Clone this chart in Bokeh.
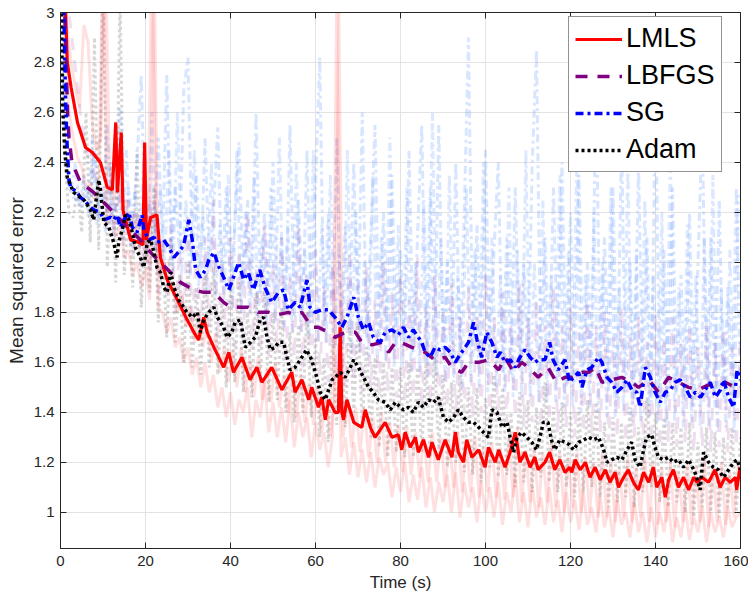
import numpy as np
from bokeh.plotting import figure
from bokeh.models import (LinearAxis, Range1d, FixedTicker, Legend, LegendItem,
                          CustomJSTickFormatter)
from bokeh.embed import file_html
from bokeh.resources import INLINE

# ---------------- data ----------------
x_ticks = [0, 20, 40, 60, 80, 100, 120, 140, 160]
y_ticks = [1.0, 1.2, 1.4, 1.6, 1.8, 2.0, 2.2, 2.4, 2.6, 2.8, 3.0]

lmls_t = [0.0, 1.2, 1.6, 2.5, 4.0, 5.9, 7.5, 9.4, 11.0, 12.2, 13.0, 13.4, 14.3, 14.7, 16.5, 18.5, 19.4, 19.8, 20.2, 21.2,
          22.7, 23.5, 25.1, 27.5, 29.8, 31.4, 32.5, 33.7, 34.5, 36.1, 38.4, 39.6, 40.7, 42.7, 44.6, 46.2, 47.4, 49.7, 51.3, 52.1,
          54.4, 55.2, 56.8, 58.4, 59.1, 60.7, 61.5, 62.3, 63.1, 64.6, 65.4, 65.8, 66.2, 66.6, 67.4, 69.0, 70.9, 71.7, 72.9, 74.0,
          76.4, 78.0, 79.5, 80.3, 81.1, 82.3, 83.5, 84.2, 85.4, 86.6, 87.4, 88.9, 89.7, 90.5, 92.1, 92.9, 93.6, 94.8, 95.6, 96.8,
          98.4, 99.9, 100.7, 102.3, 103.1, 104.6, 105.8, 107.0, 108.1, 109.3, 110.5, 111.6, 112.4, 114.0, 115.1, 116.3, 117.5, 118.7, 119.8, 120.3,
          121.1, 122.3, 123.5, 124.6, 125.8, 127.0, 128.2, 129.3, 130.5, 131.3, 132.5, 133.6, 134.8, 136.0, 137.2, 138.4, 139.5, 140.3, 141.5, 142.3,
          143.1, 144.2, 145.4, 146.6, 147.8, 149.0, 149.7, 150.9, 152.5, 154.0, 155.2, 156.4, 157.6, 158.8, 159.1, 159.9]
lmls_v = [3.50, 3.00, 2.80, 2.70, 2.56, 2.46, 2.44, 2.40, 2.30, 2.29, 2.56, 2.28, 2.52, 2.21, 2.09, 2.08, 2.07, 2.48, 2.09, 2.18,
          2.19, 2.02, 1.93, 1.85, 1.77, 1.72, 1.69, 1.78, 1.72, 1.66, 1.58, 1.64, 1.56, 1.62, 1.53, 1.58, 1.52, 1.58, 1.52, 1.49,
          1.56, 1.48, 1.53, 1.45, 1.50, 1.42, 1.46, 1.37, 1.45, 1.40, 1.40, 1.74, 1.40, 1.37, 1.45, 1.36, 1.34, 1.41, 1.34, 1.30,
          1.36, 1.30, 1.31, 1.25, 1.32, 1.26, 1.30, 1.24, 1.29, 1.22, 1.28, 1.21, 1.25, 1.29, 1.22, 1.32, 1.24, 1.20, 1.29, 1.22,
          1.25, 1.18, 1.26, 1.20, 1.25, 1.18, 1.24, 1.32, 1.20, 1.24, 1.18, 1.22, 1.17, 1.20, 1.24, 1.17, 1.21, 1.16, 1.18, 1.16,
          1.21, 1.17, 1.20, 1.14, 1.18, 1.13, 1.17, 1.12, 1.16, 1.10, 1.14, 1.17, 1.12, 1.09, 1.16, 1.12, 1.18, 1.10, 1.14, 1.06,
          1.13, 1.17, 1.10, 1.14, 1.09, 1.14, 1.12, 1.14, 1.12, 1.17, 1.10, 1.14, 1.12, 1.14, 1.09, 1.18]

lbfgs_t = [0.0, 1.0, 1.4, 1.7, 2.0, 2.7, 4.7, 7.8, 10.2, 12.5, 15.7, 18.8, 21.2, 23.5, 25.9, 28.2, 31.4, 33.7, 36.1, 38.4,
           40.0, 41.9, 44.2, 46.6, 49.0, 50.9, 53.6, 55.2, 56.8, 59.1, 60.7, 63.1, 64.6, 67.0, 69.4, 70.9, 73.3, 75.6, 77.2, 78.8,
           80.0, 82.7, 84.2, 85.8, 88.1, 90.5, 92.1, 94.4, 96.0, 98.4, 100.7, 103.1, 104.6, 106.6, 108.5, 110.1, 112.4, 114.7, 116.7, 118.7,
           120.3, 122.7, 124.3, 125.9, 127.4, 129.7, 132.1, 134.4, 136.0, 138.4, 140.7, 143.1, 145.4, 147.8, 150.1, 152.5, 154.8, 156.4, 158.8, 160.0]
lbfgs_v = [3.60, 3.00, 2.75, 2.58, 2.50, 2.40, 2.32, 2.28, 2.24, 2.20, 2.14, 2.09, 2.04, 2.00, 1.96, 1.92, 1.89, 1.88, 1.88, 1.84,
           1.82, 1.82, 1.82, 1.80, 1.80, 1.79, 1.80, 1.79, 1.80, 1.74, 1.74, 1.72, 1.70, 1.72, 1.72, 1.68, 1.67, 1.68, 1.64, 1.68,
           1.68, 1.66, 1.65, 1.64, 1.61, 1.62, 1.58, 1.56, 1.60, 1.60, 1.61, 1.57, 1.62, 1.56, 1.60, 1.58, 1.54, 1.58, 1.52, 1.54,
           1.54, 1.56, 1.56, 1.58, 1.52, 1.53, 1.54, 1.52, 1.50, 1.53, 1.48, 1.54, 1.52, 1.50, 1.49, 1.51, 1.50, 1.52, 1.50, 1.49]

sg_t = [0.0, 0.8, 1.2, 1.6, 2.0, 2.4, 3.9, 4.7, 5.5, 7.1, 7.8, 9.4, 10.2, 11.8, 12.5, 13.3, 14.1, 14.9, 16.1, 16.9,
        18.0, 19.2, 19.6, 20.8, 22.0, 22.7, 24.3, 25.5, 26.7, 28.2, 29.0, 30.2, 31.0, 31.8, 32.9, 34.1, 34.9, 36.1, 37.3, 38.4,
        39.6, 40.7, 41.9, 43.1, 44.2, 45.4, 46.9, 48.1, 49.7, 51.3, 52.5, 53.6, 55.2, 56.4, 58.0, 58.7, 59.9, 61.5, 63.1, 64.6,
        66.2, 67.4, 69.0, 70.1, 71.3, 72.5, 73.6, 75.2, 76.4, 78.0, 79.5, 80.7, 81.9, 83.0, 84.2, 85.0, 85.8, 87.0, 88.1, 89.3,
        90.5, 91.7, 92.9, 93.6, 94.8, 96.0, 97.2, 98.0, 99.1, 100.3, 101.5, 102.7, 103.5, 104.6, 105.8, 107.0, 108.1, 109.3, 110.5, 111.7,
        112.4, 114.0, 115.1, 115.9, 117.1, 118.7, 119.8, 120.7, 121.9, 122.7, 123.9, 125.0, 126.6, 127.4, 128.6, 129.7, 130.9, 132.1, 133.3, 134.4,
        135.6, 136.4, 137.6, 138.8, 139.9, 141.1, 142.3, 143.5, 144.6, 145.8, 147.0, 148.2, 149.4, 150.6, 151.7, 152.9, 154.1, 155.3, 156.0, 157.2,
        158.4, 159.2, 160.0]
sg_v = [3.40, 3.00, 2.65, 2.45, 2.33, 2.30, 2.28, 2.26, 2.25, 2.22, 2.21, 2.20, 2.17, 2.18, 2.17, 2.19, 2.14, 2.17, 2.20, 2.14,
        2.12, 2.19, 2.13, 2.09, 2.10, 2.08, 2.09, 2.06, 2.02, 2.05, 2.07, 2.17, 2.09, 1.97, 1.94, 1.97, 2.01, 2.04, 1.98, 1.94,
        1.89, 1.94, 2.00, 1.93, 1.96, 1.89, 1.97, 1.90, 1.84, 1.88, 1.89, 1.81, 1.84, 1.82, 1.93, 1.82, 1.80, 1.81, 1.81, 1.78,
        1.74, 1.78, 1.86, 1.78, 1.73, 1.76, 1.70, 1.68, 1.72, 1.73, 1.71, 1.74, 1.70, 1.73, 1.70, 1.68, 1.64, 1.62, 1.66, 1.65,
        1.66, 1.64, 1.60, 1.62, 1.65, 1.68, 1.76, 1.69, 1.62, 1.72, 1.68, 1.62, 1.64, 1.60, 1.61, 1.58, 1.62, 1.65, 1.62, 1.60,
        1.61, 1.61, 1.68, 1.61, 1.57, 1.61, 1.52, 1.54, 1.56, 1.50, 1.57, 1.58, 1.62, 1.60, 1.54, 1.52, 1.48, 1.50, 1.53, 1.49,
        1.48, 1.42, 1.58, 1.54, 1.48, 1.44, 1.48, 1.49, 1.52, 1.53, 1.50, 1.46, 1.48, 1.46, 1.49, 1.52, 1.46, 1.49, 1.53, 1.46,
        1.42, 1.57, 1.53]

adam_t = [0.0, 0.2, 0.5, 1.0, 1.6, 3.1, 5.5, 7.1, 7.8, 9.0, 9.4, 10.2, 11.4, 12.5, 13.3, 13.7, 14.5, 15.3, 16.1, 16.9,
          17.6, 18.8, 19.6, 20.4, 21.2, 22.0, 22.7, 23.5, 24.3, 25.1, 25.9, 26.7, 27.8, 29.0, 29.8, 31.0, 32.2, 32.9, 33.7, 34.9,
          36.1, 36.9, 38.4, 39.2, 40.3, 41.1, 42.3, 43.5, 44.7, 45.8, 47.0, 47.8, 48.6, 49.4, 50.5, 51.3, 52.5, 53.3, 54.0, 55.2,
          56.4, 57.9, 59.1, 60.3, 61.1, 62.3, 63.1, 63.9, 64.6, 65.8, 67.0, 68.2, 69.0, 70.1, 71.3, 72.5, 73.6, 74.8, 76.4, 77.6,
          78.8, 80.0, 80.7, 81.9, 83.0, 84.2, 85.4, 86.6, 87.8, 88.9, 90.1, 91.3, 92.5, 93.6, 94.8, 96.0, 97.2, 98.4, 99.5, 100.7,
          101.5, 102.7, 103.9, 105.1, 105.8, 106.6, 107.4, 108.5, 109.7, 110.9, 112.0, 112.8, 113.6, 114.7, 115.5, 116.3, 117.5, 118.7, 119.8, 120.7,
          121.9, 123.1, 124.3, 125.4, 126.6, 127.8, 128.6, 129.7, 130.9, 132.1, 133.3, 134.4, 135.2, 136.4, 137.2, 137.9, 139.1, 139.9, 140.7, 141.9,
          143.1, 144.2, 145.4, 146.6, 147.8, 149.0, 149.7, 150.5, 151.3, 152.5, 153.6, 154.8, 156.0, 157.2, 158.4, 159.2, 160.0]
adam_v = [3.50, 3.00, 2.62, 2.45, 2.34, 2.28, 2.25, 2.21, 2.17, 2.33, 2.29, 2.16, 2.14, 2.08, 2.02, 2.08, 2.13, 2.19, 2.17, 2.12,
          2.06, 2.02, 1.98, 2.08, 2.09, 2.04, 1.98, 1.96, 1.90, 1.88, 1.96, 1.90, 1.85, 1.82, 1.80, 1.78, 1.80, 1.72, 1.77, 1.80,
          1.82, 1.78, 1.74, 1.70, 1.72, 1.76, 1.77, 1.66, 1.68, 1.70, 1.77, 1.78, 1.70, 1.65, 1.66, 1.68, 1.68, 1.62, 1.57, 1.58,
          1.61, 1.65, 1.61, 1.54, 1.48, 1.45, 1.49, 1.53, 1.54, 1.56, 1.54, 1.58, 1.61, 1.58, 1.54, 1.50, 1.48, 1.45, 1.44, 1.41,
          1.44, 1.42, 1.41, 1.42, 1.40, 1.44, 1.42, 1.45, 1.44, 1.46, 1.38, 1.36, 1.38, 1.41, 1.38, 1.36, 1.36, 1.34, 1.32, 1.30,
          1.41, 1.40, 1.34, 1.36, 1.30, 1.24, 1.30, 1.32, 1.30, 1.28, 1.25, 1.30, 1.36, 1.36, 1.29, 1.25, 1.29, 1.28, 1.27, 1.25,
          1.28, 1.29, 1.30, 1.29, 1.30, 1.25, 1.20, 1.21, 1.22, 1.21, 1.25, 1.28, 1.21, 1.18, 1.25, 1.30, 1.31, 1.26, 1.22, 1.21,
          1.22, 1.20, 1.21, 1.18, 1.21, 1.17, 1.14, 1.09, 1.24, 1.20, 1.18, 1.17, 1.14, 1.17, 1.20, 1.21, 1.17]

# faint individual runs (one value per second, or per half-offset second)
blue_run1 = [3.4, 2.45, 2.30, 2.26, 2.25, 2.22, 2.30, 2.20, 2.45, 2.18,
             2.20, 2.55, 2.15, 2.22, 2.62, 2.12, 2.30, 2.14, 2.40, 2.75,
             2.08, 2.25, 2.05, 2.50, 2.06, 2.75, 2.02, 2.30, 2.04, 2.69,
             2.82, 2.00, 2.35, 1.95, 2.50, 1.98, 2.20, 2.54, 1.92, 2.30,
             1.88, 2.15, 2.48, 1.90, 2.25, 1.86, 2.60, 1.88, 2.20, 1.82,
             2.40, 1.84, 2.10, 1.80, 2.55, 1.78, 2.25, 1.80, 2.45, 1.76,
             2.30, 2.82, 1.74, 2.20, 1.72, 2.50, 1.70, 2.15, 1.72, 2.40,
             1.75, 2.60, 1.70, 2.10, 2.55, 1.66, 2.20, 1.68, 2.35, 1.66,
             2.05, 1.68, 2.45, 1.64, 2.10, 2.55, 1.60, 2.30, 1.60, 2.55,
             1.62, 2.00, 1.58, 2.40, 1.60, 2.20, 2.90, 1.62, 2.15, 1.60,
             2.45, 1.64, 2.05, 2.40, 1.56, 2.10, 1.55, 2.30, 1.58, 2.00,
             1.58, 2.40, 2.85, 1.56, 2.10, 1.60, 2.30, 1.54, 2.40, 1.50,
             2.20, 1.52, 2.35, 1.50, 2.00, 1.54, 2.75, 1.55, 2.10, 1.48,
             2.30, 1.45, 2.50, 1.48, 2.00, 1.45, 2.40, 1.50, 2.10, 1.44,
             2.70, 1.42, 2.05, 1.46, 2.30, 1.48, 1.95, 1.44, 2.20, 1.42,
             2.00, 2.55, 1.45, 2.10, 1.42, 2.25, 1.46, 1.90, 1.40, 2.30,
             1.50]
blue_run2 = [2.80, 2.35, 2.28, 2.40, 2.22, 2.35, 2.18, 2.50, 2.15, 2.30,
             2.12, 2.40, 2.10, 2.35, 2.08, 2.45, 2.06, 2.30, 2.05, 2.40,
             2.02, 2.60, 2.00, 2.30, 1.98, 2.45, 1.96, 2.60, 1.95, 2.25,
             1.94, 2.45, 1.90, 2.20, 1.88, 2.40, 1.86, 2.15, 1.85, 2.35,
             1.82, 2.45, 1.80, 2.20, 1.80, 2.35, 1.78, 2.10, 1.76, 2.30,
             1.76, 2.50, 1.74, 2.15, 1.72, 2.40, 1.72, 2.05, 1.70, 2.45,
             1.68, 2.15, 1.68, 2.35, 1.66, 2.05, 1.65, 2.45, 1.64, 2.20,
             1.64, 2.00, 1.62, 2.35, 1.60, 2.10, 1.60, 2.50, 1.58, 2.15,
             1.58, 2.30, 1.56, 2.00, 1.56, 2.25, 1.54, 2.60, 1.54, 2.10,
             1.52, 2.35, 1.52, 1.95, 1.50, 2.30, 1.52, 2.05, 1.50, 2.40,
             1.48, 2.10, 1.50, 1.95, 1.48, 2.30, 1.46, 2.05, 1.46, 2.45,
             1.46, 2.00, 1.44, 2.25, 1.44, 1.95, 1.44, 2.35, 1.42, 2.05,
             1.42, 2.45, 1.40, 1.95, 1.42, 2.20, 1.40, 2.00, 1.38, 2.30,
             1.38, 1.90, 1.40, 2.40, 1.36, 2.05, 1.36, 2.25, 1.38, 1.95,
             1.36, 2.20, 1.34, 2.45, 1.36, 1.90, 1.34, 2.15, 1.36, 1.95,
             1.34, 2.10, 1.34, 2.35, 1.32, 1.90, 1.34, 2.05, 1.32, 2.27]
red_run1 = [3.50, 2.90, 2.60, 2.50, 2.42, 2.38, 2.30, 2.32, 2.25, 2.28,
            3.30, 2.15, 2.20, 2.10, 2.15, 2.02, 2.05, 1.95, 2.00, 1.90,
            1.98, 1.85, 3.30, 1.82, 1.80, 1.72, 1.78, 1.66, 1.70, 1.60,
            1.66, 1.55, 1.62, 1.50, 1.60, 1.48, 1.55, 1.42, 1.50, 1.38,
            1.48, 1.35, 1.45, 1.40, 1.50, 1.30, 1.45, 1.38, 1.52, 1.32,
            1.44, 1.30, 1.42, 1.28, 1.45, 1.26, 1.40, 1.30, 1.38, 1.22,
            1.36, 1.25, 1.32, 1.18, 1.30, 3.10, 1.22, 1.30, 1.15, 1.28,
            1.14, 1.25, 1.12, 1.24, 1.10, 1.22, 1.15, 1.20, 1.06, 1.18,
            1.08, 1.20, 1.04, 1.15, 1.05, 1.18, 1.02, 1.14, 1.00, 1.12,
            1.04, 1.15, 1.00, 1.16, 0.98, 1.12, 1.02, 1.10, 0.96, 1.12,
            1.00, 1.10, 0.98, 1.12, 0.95, 1.08, 1.00, 1.15, 0.96, 1.08,
            0.94, 1.10, 0.98, 1.06, 0.95, 1.10, 0.96, 1.05, 0.92, 1.08,
            0.96, 1.05, 0.93, 1.08, 0.95, 1.02, 0.92, 1.06, 0.94, 1.02,
            0.90, 1.05, 0.95, 1.00, 0.90, 1.04, 0.92, 1.00, 0.88, 1.02,
            0.90, 1.00, 0.92, 1.04, 0.88, 0.98, 0.90, 1.02, 0.89, 0.98,
            0.92, 1.02, 0.88, 1.00, 0.92, 0.98, 0.90, 1.02, 0.94, 0.98,
            1.00]
red_run2 = [3.20, 2.95, 2.80, 2.70, 2.62, 2.95, 2.88, 2.55, 2.45, 2.50,
            3.30, 2.40, 2.25, 2.35, 2.20, 2.25, 2.12, 2.20, 2.05, 2.15,
            2.00, 3.30, 2.10, 1.95, 2.00, 1.88, 1.92, 1.80, 1.88, 1.74,
            1.82, 1.68, 1.80, 1.66, 1.75, 1.60, 1.72, 1.56, 1.66, 1.52,
            1.65, 1.50, 1.66, 1.48, 1.62, 1.46, 1.62, 1.45, 1.58, 1.44,
            1.60, 1.42, 1.55, 1.40, 1.58, 1.38, 1.55, 1.36, 1.52, 1.35,
            1.50, 1.32, 1.46, 1.30, 1.45, 3.00, 1.30, 1.45, 1.26, 1.42,
            1.24, 1.42, 1.22, 1.38, 1.20, 1.40, 1.20, 1.36, 1.18, 1.35,
            1.16, 1.34, 1.15, 1.32, 1.14, 1.30, 1.12, 1.32, 1.12, 1.30,
            1.10, 1.28, 1.10, 1.32, 1.08, 1.28, 1.08, 1.30, 1.06, 1.26,
            1.08, 1.28, 1.06, 1.26, 1.05, 1.30, 1.06, 1.34, 1.04, 1.25,
            1.04, 1.26, 1.02, 1.24, 1.04, 1.28, 1.02, 1.24, 1.00, 1.22,
            1.02, 1.24, 1.00, 1.22, 1.00, 1.20, 0.98, 1.24, 0.98, 1.20,
            0.96, 1.18, 0.98, 1.22, 0.96, 1.18, 0.98, 1.22, 0.96, 1.20,
            0.95, 1.18, 0.96, 1.20, 0.94, 1.16, 0.96, 1.20, 0.95, 1.18,
            0.96, 1.22, 0.94, 1.18, 0.96, 1.20, 0.95, 1.16, 0.98, 1.20]
gray_run = [3.50, 2.40, 2.20, 2.18, 2.30, 2.12, 2.60, 2.08, 2.90, 2.05,
            3.20, 1.98, 2.40, 1.92, 3.10, 1.95, 2.20, 1.90, 2.45, 1.82,
            2.10, 1.88, 2.30, 1.76, 2.05, 1.70, 2.10, 1.68, 1.95, 1.60,
            2.00, 1.58, 1.90, 1.55, 1.95, 1.58, 1.98, 1.55, 1.85, 1.50,
            1.90, 1.52, 1.92, 1.48, 1.80, 1.46, 1.88, 1.52, 1.90, 1.44,
            1.80, 1.45, 1.82, 1.40, 1.72, 1.36, 1.75, 1.40, 1.80, 1.38,
            1.70, 1.30, 1.62, 1.28, 1.70, 1.35, 1.72, 1.34, 1.74, 1.40,
            1.75, 1.34, 1.66, 1.30, 1.62, 1.26, 1.60, 1.22, 1.58, 1.24,
            1.58, 1.22, 1.60, 1.22, 1.58, 1.24, 1.60, 1.22, 1.62, 1.25,
            1.55, 1.18, 1.52, 1.20, 1.55, 1.16, 1.50, 1.15, 1.50, 1.12,
            1.46, 1.18, 1.55, 1.14, 1.50, 1.15, 1.40, 1.10, 1.48, 1.12,
            1.45, 1.08, 1.42, 1.14, 1.52, 1.12, 1.42, 1.08, 1.44, 1.10,
            1.40, 1.06, 1.42, 1.08, 1.45, 1.10, 1.44, 1.06, 1.36, 1.02,
            1.38, 1.04, 1.36, 1.06, 1.42, 1.02, 1.34, 1.08, 1.46, 1.10,
            1.40, 1.04, 1.38, 1.02, 1.36, 1.04, 1.34, 1.00, 1.36, 0.98,
            1.28, 1.02, 1.34, 1.00, 1.32, 0.98, 1.30, 1.02, 1.34, 1.00,
            1.30]
purple_run = [3.60, 3.30, 3.00, 2.85, 2.70, 2.55, 2.45, 2.40, 2.35, 2.32,
              2.30, 2.20, 2.35, 2.15, 2.30, 2.08, 2.25, 2.02, 2.20, 1.98,
              2.15, 1.95, 2.25, 1.88, 2.10, 1.85, 2.15, 1.80, 2.05, 1.78,
              2.20, 1.75, 2.05, 1.72, 2.10, 1.74, 2.25, 1.70, 2.00, 1.68,
              2.10, 1.66, 2.05, 1.68, 2.20, 1.65, 1.98, 1.64, 2.15, 1.62,
              2.00, 1.64, 2.10, 1.60, 1.95, 1.62, 2.15, 1.58, 1.95, 1.56,
              2.05, 1.55, 1.90, 1.52, 2.00, 1.54, 1.85, 1.50, 2.05, 1.52,
              1.92, 1.48, 1.98, 1.50, 1.85, 1.46, 2.00, 1.48, 1.88, 1.46,
              1.95, 1.44, 1.85, 1.46, 2.02, 1.42, 1.82, 1.44, 1.95, 1.40,
              1.80, 1.42, 1.92, 1.38, 1.78, 1.40, 1.90, 1.38, 1.80, 1.40,
              1.95, 1.36, 1.78, 1.38, 1.88, 1.36, 1.75, 1.38, 1.92, 1.34,
              1.78, 1.36, 1.85, 1.34, 1.75, 1.36, 1.90, 1.32, 1.75, 1.34,
              1.82, 1.30, 1.72, 1.32, 1.85, 1.30, 1.75, 1.32, 1.80, 1.28,
              1.70, 1.30, 1.82, 1.28, 1.70, 1.30, 1.78, 1.26, 1.68, 1.28,
              1.80, 1.26, 1.70, 1.28, 1.78, 1.26, 1.68, 1.28, 1.75, 1.24,
              1.66, 1.26, 1.76, 1.24, 1.68, 1.26, 1.74, 1.24, 1.66, 1.26,
              1.70]

t_whole = np.arange(0, 161)          # 0,1,...,160 s
t_half = np.arange(0.5, 160, 1.0)    # 0.5,1.5,...,159.5 s

FONT = "Liberation Sans"
TXT = "#262626"

p = figure(width=748, height=594, x_range=Range1d(0, 160), y_range=Range1d(0.855, 3.0),
           output_backend="svg", toolbar_location=None,
           min_border_left=60, min_border_right=8, min_border_top=12, min_border_bottom=46,
           x_axis_label="Time (s)", y_axis_label="Mean squared error")
p.background_fill_color = "white"
p.border_fill_color = "white"
p.outline_line_color = TXT
p.outline_line_width = 1

# faint individual runs
fw = 3
p.line(t_whole, blue_run1, line_color="#3d7dff", line_alpha=0.20, line_width=fw, line_dash="8 4 3 4")
p.line(t_half, blue_run2, line_color="#3d7dff", line_alpha=0.18, line_width=fw, line_dash="8 4 3 4")
p.line(t_whole, purple_run, line_color="#800080", line_alpha=0.13, line_width=fw, line_dash="12 10")
p.line(t_whole, gray_run, line_color="#000000", line_alpha=0.16, line_width=fw, line_dash="3 3")
p.line(t_whole, red_run1, line_color="#ff0000", line_alpha=0.12, line_width=fw)
p.line(t_half, red_run2, line_color="#ff0000", line_alpha=0.12, line_width=fw)

# main averaged curves
r_lmls = p.line(lmls_t, lmls_v, line_color="#ff0000", line_width=3.2)
r_lbfgs = p.line(lbfgs_t, lbfgs_v, line_color="#800080", line_width=3.5, line_dash="12 10")
r_sg = p.line(sg_t, sg_v, line_color="#0000ff", line_width=3.5, line_dash="8 4 3 4")
r_adam = p.line(adam_t, adam_v, line_color="#000000", line_width=3.5, line_dash="3 3")

# axes
for ax in (p.xaxis[0], p.yaxis[0]):
    ax.major_tick_in = 6
    ax.major_tick_out = 0
    ax.minor_tick_line_color = None
    ax.axis_line_color = TXT
    ax.major_tick_line_color = TXT
    ax.major_label_text_font = FONT
    ax.major_label_text_font_size = "15px"
    ax.major_label_text_color = TXT
    ax.axis_label_text_font = FONT
    ax.axis_label_text_font_style = "normal"
    ax.axis_label_text_color = TXT

p.xaxis[0].axis_label_text_font_size = "17px"
p.yaxis[0].axis_label_text_font_size = "19px"
p.xaxis[0].ticker = FixedTicker(ticks=x_ticks)
p.yaxis[0].ticker = FixedTicker(ticks=y_ticks)
p.yaxis[0].formatter = CustomJSTickFormatter(code="return (Math.round(tick*10)/10).toString();")
p.xaxis[0].major_label_standoff = 7
p.yaxis[0].major_label_standoff = 6
p.xaxis[0].axis_label_standoff = 4
p.yaxis[0].axis_label_standoff = 4

blank = CustomJSTickFormatter(code="return '';")
for loc, tk in (("right", y_ticks), ("above", x_ticks)):
    ax = LinearAxis(ticker=FixedTicker(ticks=tk), formatter=blank, major_tick_in=6, major_tick_out=0,
                    minor_tick_line_color=None, axis_line_color=TXT, major_tick_line_color=TXT,
                    major_label_standoff=0, major_label_text_font_size="1px")
    p.add_layout(ax, loc)

p.xgrid.ticker = FixedTicker(ticks=x_ticks)
p.ygrid.ticker = FixedTicker(ticks=y_ticks)
p.grid.grid_line_color = "#e3e3e3"
p.grid.grid_line_width = 1

legend = Legend(items=[LegendItem(label="LMLS", renderers=[r_lmls]),
                       LegendItem(label="LBFGS", renderers=[r_lbfgs]),
                       LegendItem(label="SG", renderers=[r_sg]),
                       LegendItem(label="Adam", renderers=[r_adam])],
                location=(508, 376), label_text_font=FONT, label_text_font_size="27px",
                label_text_color="#000000", glyph_width=47, glyph_height=28, label_height=28,
                label_standoff=4, spacing=6, padding=6, margin=0,
                border_line_color=TXT, border_line_width=1, background_fill_alpha=1)
p.add_layout(legend, "center")

open("out.html", "w").write(file_html(p, INLINE))
